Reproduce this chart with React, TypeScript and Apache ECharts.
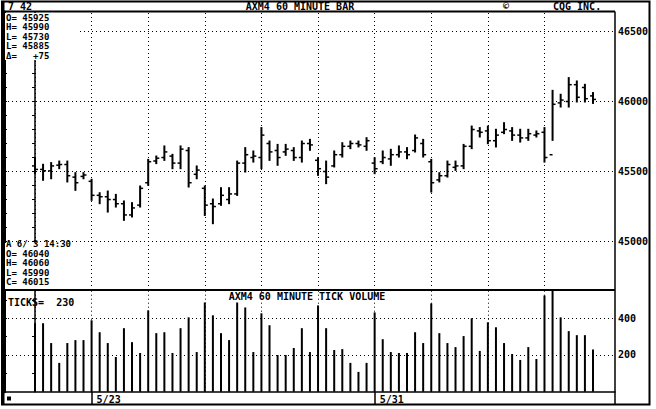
import React, { useEffect, useRef } from "react";
import * as echarts from "echarts";

// ---- data ----
const opens = [45540, 45515, 45505, 45545, 45550, 45460, 45465, 45430, 45330, 45320, 45300, 45270, 45190, 45260, 45420, 45575, 45600, 45610, 45560, 45650, 45480, 45380, 45270, 45270, 45300, 45340, 45560, 45600, 45600, 45700, 45650, 45640, 45650, 45600, 45700, 45580, 45500, 45540, 45620, 45680, 45700, 45680, 45560, 45570, 45590, 45620, 45640, 45650, 45700, 45570, 45440, 45470, 45530, 45540, 45680, 45790, 45790, 45720, 45780, 45790, 45760, 45740, 45760, 45780, 45620, 45990, 46000, 46120, 46100, 46040];
const highs = [45595, 45548, 45560, 45571, 45571, 45488, 45488, 45441, 45345, 45357, 45333, 45286, 45274, 45393, 45583, 45607, 45679, 45619, 45679, 45667, 45536, 45393, 45300, 45381, 45381, 45571, 45667, 45643, 45810, 45714, 45690, 45690, 45667, 45714, 45726, 45595, 45571, 45643, 45702, 45714, 45714, 45738, 45595, 45643, 45655, 45679, 45667, 45757, 45726, 45583, 45488, 45571, 45571, 45690, 45821, 45810, 45821, 45798, 45845, 45810, 45798, 45798, 45786, 45810, 46076, 46048, 46167, 46143, 46119, 46060];
const lows = [45488, 45441, 45452, 45524, 45429, 45369, 45452, 45298, 45274, 45214, 45250, 45155, 45179, 45250, 45405, 45560, 45583, 45524, 45524, 45393, 45452, 45190, 45131, 45262, 45274, 45333, 45500, 45571, 45524, 45583, 45548, 45619, 45583, 45571, 45655, 45476, 45417, 45536, 45607, 45667, 45679, 45655, 45488, 45560, 45548, 45607, 45595, 45643, 45607, 45357, 45429, 45464, 45512, 45524, 45667, 45750, 45702, 45679, 45774, 45726, 45714, 45726, 45750, 45571, 45726, 45964, 45964, 46000, 46000, 45990];
const closes = [45515, 45505, 45540, 45550, 45470, 45420, 45475, 45330, 45320, 45300, 45270, 45190, 45240, 45380, 45570, 45595, 45640, 45560, 45660, 45420, 45510, 45260, 45250, 45330, 45340, 45560, 45620, 45610, 45760, 45640, 45600, 45660, 45600, 45700, 45690, 45520, 45460, 45620, 45680, 45700, 45690, 45720, 45520, 45600, 45620, 45640, 45620, 45740, 45620, 45420, 45470, 45550, 45540, 45680, 45800, 45780, 45720, 45760, 45800, 45760, 45740, 45770, 45770, 45600, 45980, 46010, 46120, 46030, 46020, 46015];
const volumes = [373, 373, 265, 157, 265, 281, 281, 389, 324, 265, 189, 346, 270, 211, 443, 319, 324, 211, 346, 405, 216, 486, 416, 319, 281, 486, 459, 216, 427, 362, 200, 200, 238, 346, 216, 470, 346, 227, 232, 157, 108, 157, 432, 286, 216, 211, 211, 324, 265, 481, 319, 265, 243, 303, 400, 222, 378, 351, 265, 205, 173, 243, 178, 524, 560, 405, 330, 308, 308, 230];

const dayStarts = [0, 7, 14, 21, 28, 35, 42, 49, 56, 63];
const dateTickIdx = [7, 42];
const dateTickLabels = ["5/23", "5/31"];

const priceLabels = [45000, 45500, 46000, 46500];
const priceTicks = [44700, 44800, 44900, 45000, 45100, 45200, 45300, 45400, 45500, 45600, 45700, 45800, 45900, 46000, 46100, 46200, 46300, 46400, 46500, 46600];
const volLabels = [200, 400];
const volTicks = [100, 200, 300, 400, 500];

const topInfo = ["O= 45925", "H= 45990", "L= 45730", "L= 45885", "\u0394=   +75"];
const bottomInfo = ["A 6/ 3 14:30", "O= 46040", "H= 46060", "L= 45990", "C= 46015"];

// ---- layout constants ----
const X_MIN = -3.83;
const X_MAX = 71.72;
const P_MIN = 44654;
const P_MAX = 46639;
const V_MAX = 554;
const FONT = '"DejaVu Sans Mono", monospace';
const dotted = { color: "#000", width: 1, type: [1, 3] as any };

export default function App() {
  const ref = useRef<HTMLDivElement>(null);
  useEffect(() => {
    document.body.style.margin = "0";
    const chart = echarts.init(ref.current!, null, { renderer: "svg" });
    const ohlc = opens.map((o, i) => [i, o, highs[i], lows[i], closes[i]]);
    const vol = volumes.map((v, i) => [i, v]);
    const txt = (x: number, y: number, text: string, align = "left", size = 10) => ({
      type: "text",
      x,
      y,
      z: 101,
      style: { text, fill: "#000", font: `bold ${size}px ${FONT}`, align, verticalAlign: "middle" },
    });
    const ln = (x1: number, y1: number, x2: number, y2: number, w: number) => ({
      type: "line",
      z: 102,
      shape: { x1, y1, x2, y2 },
      style: { stroke: "#000", lineWidth: w },
    });
    const plain = (v: number) => String(v);
    const option: any = {
      animation: false,
      backgroundColor: "#fff",
      textStyle: { fontFamily: FONT, fontWeight: "bold" },
      grid: [
        { left: 4, right: 41, top: 12, height: 278 },
        { left: 4, right: 41, top: 290, height: 101.7 },
      ],
      xAxis: [
        { type: "value", gridIndex: 0, min: X_MIN, max: X_MAX, show: false },
        {
          type: "value",
          gridIndex: 1,
          min: X_MIN,
          max: X_MAX,
          axisLine: { show: true, onZero: false, lineStyle: { color: "#000", width: 1.5 } },
          axisTick: { show: true, customValues: dateTickIdx, length: 13, lineStyle: { color: "#000", width: 1.5 } },
          axisLabel: {
            customValues: dateTickIdx,
            formatter: (v: number) => dateTickLabels[dateTickIdx.indexOf(Math.round(v))] ?? "",
            align: "left",
            padding: [0, 0, 0, 5],
            margin: 3,
            color: "#000",
            fontSize: 10,
            fontFamily: FONT,
            fontWeight: "bold",
          },
          splitLine: { show: false },
        },
      ],
      yAxis: [
        {
          type: "value",
          gridIndex: 0,
          position: "right",
          min: P_MIN,
          max: P_MAX,
          axisLine: { show: true, lineStyle: { color: "#000", width: 1.5 } },
          axisTick: { show: true, inside: true, length: 3, customValues: priceTicks, lineStyle: { color: "#000" } },
          axisLabel: { customValues: priceLabels, formatter: plain, color: "#000", fontSize: 10, fontFamily: FONT, fontWeight: "bold", margin: 3 },
          splitLine: { show: false },
        },
        {
          type: "value",
          gridIndex: 0,
          position: "left",
          min: P_MIN,
          max: P_MAX,
          axisLine: { show: true, lineStyle: { color: "#000", width: 3 } },
          axisTick: { show: true, inside: true, length: 3, customValues: priceTicks, lineStyle: { color: "#000" } },
          axisLabel: { show: false },
          splitLine: { show: false },
        },
        {
          type: "value",
          gridIndex: 1,
          position: "right",
          min: 0,
          max: V_MAX,
          axisLine: { show: true, lineStyle: { color: "#000", width: 1.5 } },
          axisTick: { show: true, inside: true, length: 3, customValues: volTicks, lineStyle: { color: "#000" } },
          axisLabel: { customValues: volLabels, formatter: plain, color: "#000", fontSize: 10, fontFamily: FONT, fontWeight: "bold", margin: 3 },
          splitLine: { show: false },
        },
        {
          type: "value",
          gridIndex: 1,
          position: "left",
          min: 0,
          max: V_MAX,
          axisLine: { show: true, lineStyle: { color: "#000", width: 3 } },
          axisTick: { show: true, inside: true, length: 3, customValues: volTicks, lineStyle: { color: "#000" } },
          axisLabel: { show: false },
          splitLine: { show: false },
        },
      ],
      series: [
        {
          type: "custom",
          xAxisIndex: 0,
          yAxisIndex: 0,
          data: ohlc,
          encode: { x: 0, y: [1, 2, 3, 4] },
          renderItem: (_p: any, api: any) => {
            const x = api.value(0);
            const pH = api.coord([x, api.value(2)]);
            const pL = api.coord([x, api.value(3)]);
            const pO = api.coord([x, api.value(1)]);
            const pC = api.coord([x, api.value(4)]);
            const st = { stroke: "#000", lineWidth: 2 };
            return {
              type: "group",
              children: [
                { type: "line", shape: { x1: pH[0], y1: pH[1] - 1, x2: pL[0], y2: pL[1] + 1 }, style: st },
                { type: "line", shape: { x1: pO[0] - 3, y1: pO[1], x2: pO[0], y2: pO[1] }, style: { stroke: "#000", lineWidth: 1.5 } },
                { type: "line", shape: { x1: pC[0], y1: pC[1], x2: pC[0] + 3, y2: pC[1] }, style: { stroke: "#000", lineWidth: 1.5 } },
              ],
            };
          },
          markLine: {
            silent: true,
            symbol: ["none", "none"],
            label: { show: false },
            lineStyle: dotted,
            emphasis: { disabled: true },
            data: [...priceLabels.map((v) => ({ yAxis: v })), ...dayStarts.map((d) => ({ xAxis: d }))],
          },
        },
        {
          type: "bar",
          xAxisIndex: 1,
          yAxisIndex: 2,
          data: vol,
          barWidth: 2,
          itemStyle: { color: "#000" },
          markLine: {
            silent: true,
            symbol: ["none", "none"],
            label: { show: false },
            lineStyle: dotted,
            emphasis: { disabled: true },
            data: [...volLabels.map((v) => ({ yAxis: v })), ...dayStarts.map((d) => ({ xAxis: d }))],
          },
        },
      ],
      graphic: [
        { type: "rect", z: 100, shape: { x: 5, y: 13, width: 72, height: 47 }, style: { fill: "#fff" } },
        { type: "rect", z: 100, shape: { x: 5, y: 243, width: 80, height: 46 }, style: { fill: "#fff" } },
        { type: "rect", z: 102, shape: { x: 2, y: 1.5, width: 647.5, height: 403 }, style: { fill: "none", stroke: "#000", lineWidth: 2 } },
        ln(3, 1, 3, 405, 3),
        ln(2, 11.5, 615, 11.5, 2),
        ln(615, 11.5, 615, 405, 1.5),
        ln(2, 290, 615, 290, 2),
        { type: "rect", z: 101, shape: { x: 7, y: 396.5, width: 4, height: 4 }, style: { fill: "#000" } },
        txt(8, 6.5, "7 42"),
        txt(300, 6.5, "AXM4 60 MINUTE BAR", "center"),
        txt(503, 6.5, "\u00a9"),
        txt(553, 6.5, "CQG INC."),
        ...topInfo.map((t, i) => txt(6, 17.5 + i * 9.5, t, "left", 9)),
        ...bottomInfo.map((t, i) => txt(6, 244 + i * 9.6, t, "left", 9)),
        txt(307, 296.5, "AXM4 60 MINUTE TICK VOLUME", "center"),
        txt(8, 302.5, "TICKS=  230"),
      ],
    };
    chart.setOption(option);
    return () => chart.dispose();
  }, []);
  return <div ref={ref} style={{ width: 656, height: 409 }} />;
}
